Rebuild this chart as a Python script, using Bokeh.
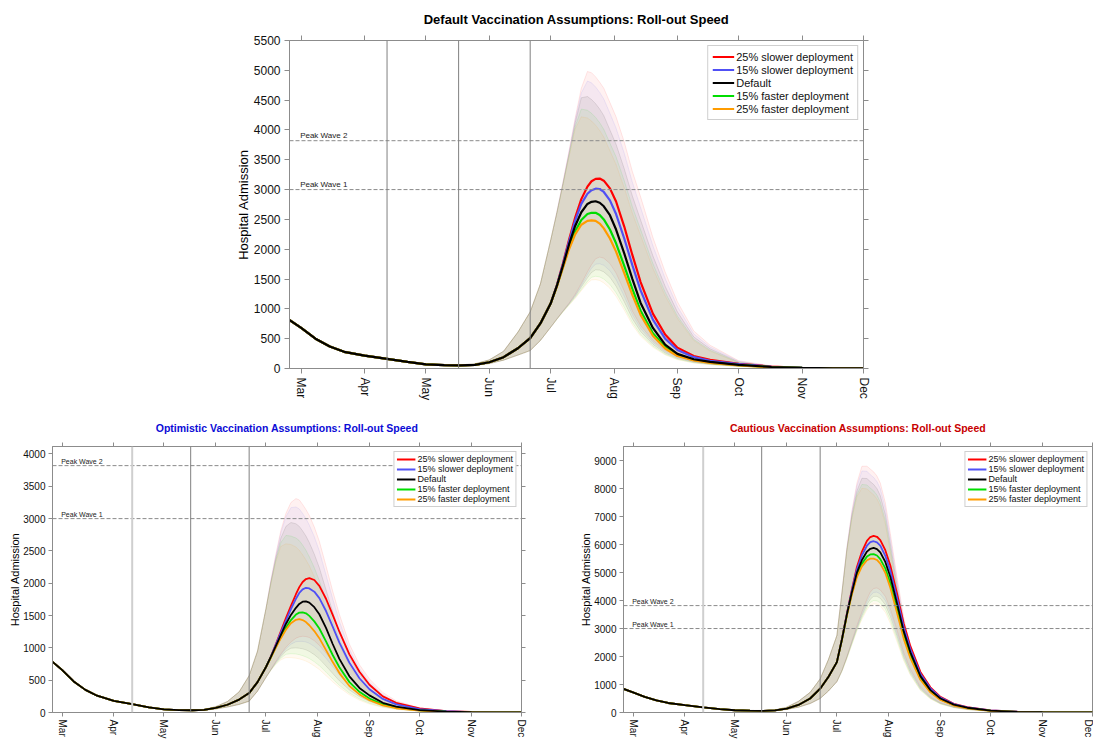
import math
import datetime
from bokeh.plotting import figure
from bokeh.models import Range1d, FixedTicker, LinearAxis, Span, Legend, LegendItem, Title
from bokeh.layouts import column, row
from bokeh.embed import file_html
from bokeh.resources import INLINE
from bokeh.core.properties import value

FONT = "Liberation Sans"
BASE = datetime.date(2021, 3, 1)


def day(m, d):
    return (datetime.date(2021, m, d) - BASE).days


# ---------------- shared labels / markers ----------------
month_nums = [3, 4, 5, 6, 7, 8, 9, 10, 11, 12]
month_labels = ["Mar", "Apr", "May", "Jun", "Jul", "Aug", "Sep", "Oct", "Nov", "Dec"]
step_dates = [(4, 12), (5, 17), (6, 21)]
peak_levels = [3000, 3820]
peak_labels = ["Peak Wave 1", "Peak Wave 2"]
series_names = ["25% slower deployment", "15% slower deployment", "Default",
                "15% faster deployment", "25% faster deployment"]
series_colors = ["#ff0000", "#5050f5", "#000000", "#00dd00", "#ff9c00"]

# sample days (days since 1 March)
pre_days = [-6, 0, 7, 14, 21, 31, 42, 52, 61, 70, 78, 85, 92, 99, 106, 112, 117]
post_days = [122, 125, 128, 131, 134, 137, 140, 142, 144, 146, 148, 151, 154, 158,
             162, 166, 172, 178, 184, 192, 200, 214, 230, 245, 260, 275]

# ---------------- Default assumptions (top) ----------------
def_pre = [820, 680, 500, 370, 280, 215, 160, 110, 70, 55, 52, 62, 105, 190, 340, 510, 755]
def_pre_lo = [800, 665, 490, 360, 270, 205, 150, 100, 63, 48, 45, 52, 82, 140, 225, 300, 470]
def_pre_hi = [840, 700, 515, 385, 295, 230, 170, 120, 78, 62, 62, 78, 145, 290, 610, 950, 1420]

def_slow25 = [1089, 1390, 1760, 2160, 2530, 2840, 3050, 3140, 3180, 3185, 3150, 3020, 2800, 2380,
              1900, 1450, 920, 570, 350, 210, 145, 80, 32, 12, 5, 2]
def_slow15 = [1089, 1385, 1745, 2130, 2480, 2760, 2930, 2990, 3015, 3010, 2960, 2820, 2590, 2180,
              1730, 1310, 820, 500, 310, 190, 130, 72, 29, 11, 4, 2]
def_default = [1089, 1380, 1720, 2080, 2390, 2620, 2760, 2795, 2805, 2780, 2720, 2570, 2330, 1930,
               1500, 1100, 680, 400, 245, 155, 110, 62, 25, 10, 4, 2]
def_fast15 = [1089, 1375, 1700, 2030, 2300, 2490, 2590, 2612, 2610, 2575, 2500, 2330, 2100, 1720,
              1330, 970, 590, 360, 225, 145, 100, 56, 23, 9, 4, 1]
def_fast25 = [1089, 1370, 1685, 2000, 2250, 2410, 2475, 2485, 2475, 2430, 2350, 2180, 1960, 1600,
              1230, 900, 550, 335, 210, 135, 95, 52, 21, 8, 3, 1]

def_slow25_hi = [2150, 2620, 3120, 3650, 4200, 4700, 4980, 4960, 4890, 4800, 4700, 4460, 4220, 3800,
                 3300, 2880, 2200, 1620, 1120, 630, 390, 130, 45, 16, 6, 2]
def_slow15_hi = [2150, 2615, 3110, 3630, 4170, 4620, 4820, 4790, 4720, 4630, 4520, 4280, 4030, 3610,
                 3120, 2700, 2060, 1510, 1040, 580, 360, 120, 42, 15, 5, 2]
def_default_hi = [2150, 2610, 3100, 3600, 4120, 4540, 4560, 4510, 4440, 4350, 4240, 4000, 3760, 3350,
                  2890, 2490, 1890, 1380, 950, 530, 330, 110, 38, 14, 5, 2]
def_fast15_hi = [2150, 2600, 3080, 3570, 4060, 4350, 4330, 4280, 4210, 4120, 4010, 3780, 3550, 3150,
                 2710, 2330, 1760, 1280, 880, 490, 305, 100, 35, 13, 4, 2]
def_fast25_hi = [2150, 2595, 3070, 3550, 4020, 4220, 4200, 4150, 4080, 3990, 3880, 3650, 3420, 3030,
                 2600, 2230, 1680, 1220, 840, 470, 290, 95, 33, 12, 4, 1]

def_slow25_lo = [690, 830, 965, 1095, 1245, 1425, 1620, 1740, 1840, 1868, 1850, 1760, 1600, 1300,
                 960, 720, 470, 300, 195, 120, 82, 44, 18, 7, 3, 1]
def_slow15_lo = [690, 828, 960, 1088, 1228, 1395, 1570, 1680, 1750, 1755, 1730, 1640, 1490, 1210,
                 900, 670, 440, 280, 180, 112, 77, 41, 17, 6, 2, 1]
def_default_lo = [690, 825, 955, 1080, 1210, 1365, 1520, 1610, 1655, 1650, 1620, 1530, 1380, 1120,
                  835, 620, 405, 260, 168, 105, 72, 38, 16, 6, 2, 1]
def_fast15_lo = [690, 822, 950, 1070, 1190, 1325, 1460, 1530, 1547, 1535, 1500, 1410, 1270, 1030,
                 770, 570, 375, 240, 155, 97, 67, 35, 15, 5, 2, 1]
def_fast25_lo = [690, 820, 945, 1060, 1175, 1305, 1430, 1485, 1490, 1475, 1435, 1345, 1210, 980,
                 730, 540, 355, 228, 148, 92, 64, 34, 14, 5, 2, 1]

# ---------------- Optimistic assumptions (bottom left) ----------------
opt_pre = [790, 660, 480, 350, 260, 180, 130, 80, 48, 37, 35, 40, 70, 120, 200, 300, 470]
opt_pre_lo = [775, 645, 470, 340, 250, 172, 122, 74, 43, 32, 30, 33, 55, 85, 125, 175, 330]
opt_pre_hi = [805, 675, 490, 360, 270, 188, 138, 86, 53, 42, 41, 48, 90, 170, 320, 570, 950]

opt_slow25 = [700, 870, 1060, 1260, 1460, 1650, 1830, 1940, 2020, 2065, 2080, 2050, 1960, 1760,
              1510, 1250, 900, 630, 430, 250, 150, 62, 22, 8, 3, 1]
opt_slow15 = [700, 865, 1050, 1240, 1420, 1600, 1760, 1850, 1905, 1930, 1920, 1870, 1770, 1570,
              1330, 1080, 770, 530, 360, 210, 125, 52, 19, 7, 2, 1]
opt_default = [700, 860, 1030, 1200, 1370, 1510, 1620, 1680, 1715, 1720, 1700, 1630, 1520, 1310,
               1060, 830, 560, 380, 265, 150, 90, 38, 14, 5, 2, 1]
opt_fast15 = [700, 855, 1015, 1170, 1310, 1430, 1515, 1545, 1550, 1535, 1495, 1410, 1300, 1100,
              890, 700, 470, 320, 215, 125, 75, 32, 12, 4, 2, 1]
opt_fast25 = [700, 850, 1005, 1150, 1280, 1380, 1435, 1445, 1430, 1400, 1350, 1260, 1150, 965,
              780, 610, 410, 280, 190, 110, 66, 28, 10, 4, 1, 1]

opt_slow25_hi = [1600, 2050, 2450, 2820, 3080, 3250, 3310, 3290, 3220, 3140, 3050, 2870, 2650, 2270,
                 1880, 1520, 1060, 740, 520, 310, 180, 72, 25, 9, 3, 1]
opt_slow15_hi = [1600, 2040, 2430, 2780, 3030, 3170, 3180, 3150, 3080, 3000, 2900, 2720, 2500, 2130,
                 1760, 1410, 980, 680, 470, 280, 160, 64, 22, 8, 3, 1]
opt_default_hi = [1600, 2020, 2390, 2700, 2880, 2940, 2920, 2880, 2810, 2730, 2630, 2450, 2240, 1900,
                  1560, 1250, 860, 590, 410, 240, 140, 56, 20, 7, 2, 1]
opt_fast15_hi = [1600, 2000, 2360, 2630, 2740, 2730, 2700, 2660, 2590, 2510, 2410, 2240, 2040, 1730,
                 1420, 1130, 780, 530, 370, 215, 125, 50, 18, 6, 2, 1]
opt_fast25_hi = [1600, 1990, 2340, 2570, 2610, 2600, 2560, 2510, 2440, 2360, 2270, 2100, 1910, 1620,
                 1320, 1050, 720, 490, 340, 200, 115, 46, 16, 6, 2, 1]

opt_slow25_lo = [540, 665, 790, 905, 1010, 1090, 1150, 1170, 1180, 1175, 1160, 1110, 1040, 920,
                 780, 640, 460, 320, 220, 130, 78, 32, 12, 4, 2, 1]
opt_slow15_lo = [540, 662, 782, 890, 985, 1055, 1095, 1100, 1100, 1090, 1070, 1020, 955, 840,
                 710, 580, 415, 290, 200, 118, 70, 29, 11, 4, 1, 1]
opt_default_lo = [540, 660, 770, 865, 950, 995, 1000, 995, 985, 970, 945, 895, 830, 720,
                  605, 490, 350, 245, 170, 100, 60, 25, 9, 3, 1, 1]
opt_fast15_lo = [540, 655, 755, 840, 900, 910, 905, 895, 880, 860, 835, 785, 725, 625,
                 520, 420, 300, 210, 145, 85, 52, 22, 8, 3, 1, 1]
opt_fast25_lo = [540, 650, 745, 815, 850, 850, 840, 830, 815, 795, 770, 720, 665, 570,
                 475, 385, 275, 190, 130, 78, 47, 20, 7, 3, 1, 1]

# ---------------- Cautious assumptions (bottom right) ----------------
cau_pre = [850, 720, 560, 430, 340, 260, 180, 120, 80, 65, 60, 75, 140, 270, 500, 850, 1280]
cau_pre_lo = [840, 710, 550, 420, 330, 252, 172, 112, 74, 58, 53, 62, 110, 190, 320, 500, 770]
cau_pre_hi = [860, 730, 570, 440, 350, 268, 188, 128, 88, 75, 72, 92, 190, 400, 720, 1200, 1900]

cau_slow25 = [1800, 2620, 3540, 4400, 5200, 5750, 6130, 6270, 6310, 6280, 6160, 5800, 5250, 4250,
              3180, 2370, 1450, 900, 560, 310, 190, 78, 28, 10, 3, 1]
cau_slow15 = [1800, 2610, 3520, 4360, 5120, 5620, 5960, 6090, 6120, 6080, 5960, 5600, 5060, 4090,
              3050, 2270, 1380, 860, 530, 300, 180, 74, 26, 9, 3, 1]
cau_default = [1800, 2600, 3500, 4300, 5000, 5450, 5750, 5850, 5880, 5840, 5720, 5380, 4850, 3900,
               2900, 2150, 1300, 800, 500, 280, 170, 70, 25, 9, 3, 1]
cau_fast15 = [1800, 2590, 3480, 4260, 4900, 5320, 5570, 5650, 5660, 5610, 5480, 5150, 4620, 3700,
              2750, 2030, 1220, 750, 470, 260, 160, 65, 23, 8, 3, 1]
cau_fast25 = [1800, 2580, 3460, 4220, 4840, 5220, 5440, 5500, 5500, 5450, 5320, 4990, 4460, 3560,
              2640, 1940, 1170, 720, 450, 250, 150, 62, 22, 8, 3, 1]

cau_slow25_hi = [2750, 4300, 5900, 7200, 8200, 8800, 8800, 8700, 8600, 8450, 8200, 7500, 6400, 4850,
                 3400, 2400, 1400, 850, 530, 300, 180, 75, 27, 10, 3, 1]
cau_slow15_hi = [2750, 4290, 5880, 7150, 8100, 8630, 8620, 8500, 8400, 8250, 8000, 7300, 6220, 4700,
                 3290, 2320, 1350, 820, 510, 290, 175, 72, 26, 9, 3, 1]
cau_default_hi = [2750, 4270, 5840, 7050, 7920, 8370, 8360, 8250, 8150, 8000, 7750, 7080, 6030, 4540,
                  3180, 2240, 1300, 790, 490, 280, 170, 70, 25, 9, 3, 1]
cau_fast15_hi = [2750, 4250, 5800, 6980, 7800, 8150, 8130, 8020, 7920, 7770, 7520, 6870, 5840, 4400,
                 3080, 2170, 1260, 765, 475, 270, 165, 68, 24, 8, 3, 1]
cau_fast25_hi = [2750, 4240, 5780, 6930, 7720, 8010, 7990, 7880, 7780, 7630, 7380, 6740, 5720, 4300,
                 3010, 2120, 1230, 745, 465, 265, 160, 66, 24, 8, 3, 1]

cau_slow25_lo = [1100, 1500, 2000, 2550, 3100, 3600, 4050, 4300, 4430, 4450, 4380, 4150, 3700, 2950,
                 2150, 1550, 920, 560, 350, 200, 120, 50, 18, 6, 2, 1]
cau_slow15_lo = [1100, 1490, 1980, 2520, 3050, 3530, 3950, 4170, 4290, 4300, 4230, 4000, 3570, 2840,
                 2070, 1490, 880, 540, 335, 190, 115, 48, 17, 6, 2, 1]
cau_default_lo = [1100, 1480, 1960, 2490, 3000, 3460, 3850, 4050, 4150, 4150, 4080, 3850, 3430, 2730,
                  1990, 1430, 850, 520, 320, 185, 110, 46, 16, 6, 2, 1]
cau_fast15_lo = [1100, 1470, 1940, 2450, 2950, 3390, 3750, 3930, 4000, 3990, 3920, 3700, 3290, 2620,
                 1910, 1370, 810, 500, 310, 175, 105, 44, 16, 5, 2, 1]
cau_fast25_lo = [1100, 1460, 1920, 2420, 2910, 3330, 3670, 3830, 3880, 3870, 3800, 3580, 3180, 2530,
                 1850, 1330, 790, 485, 300, 170, 100, 42, 15, 5, 2, 1]

DRAW_ORDER = [0, 1, 3, 4, 2]  # default (black) line drawn last, on top


def make_panel(title, title_color, ymax, ytick_step, pre, pre_lo, pre_hi, lines, los, his,
               width, height, borders, sz, first_step_light, right_axis=True):
    bl, br, bt, bb = borders
    month_ticks = [day(m, 1) for m in month_nums]
    p = figure(width=width, height=height, output_backend="svg", toolbar_location=None,
               x_range=Range1d(-5.7, day(12, 1)), y_range=Range1d(0, ymax),
               min_border_left=bl, min_border_right=br, min_border_top=bt, min_border_bottom=bb,
               background_fill_color="white", border_fill_color="white")
    p.grid.visible = False
    p.outline_line_color = "#8c8c8c"
    p.outline_line_width = 1

    xt = FixedTicker(ticks=month_ticks)
    yt = FixedTicker(ticks=list(range(0, int(ymax) + 1, ytick_step)))

    xa = p.xaxis[0]
    xa.ticker = xt
    xa.major_label_overrides = {t: lab for t, lab in zip(month_ticks, month_labels)}
    xa.major_label_orientation = -math.pi / 2
    xa.major_label_text_font = FONT
    xa.major_label_text_font_size = sz["tick"]
    xa.major_label_standoff = sz["standoff"]
    ya = p.yaxis[0]
    ya.ticker = yt
    ya.major_label_text_font = FONT
    ya.major_label_text_font_size = sz["tick"]
    ya.major_label_standoff = sz["standoff"]
    ya.axis_label = "Hospital Admission"
    ya.axis_label_text_font = FONT
    ya.axis_label_text_font_size = sz["axis"]
    ya.axis_label_text_font_style = "normal"
    ya.axis_label_text_color = "#000000"
    ya.axis_label_standoff = sz["label_standoff"]
    for ax in (xa, ya):
        ax.axis_line_color = "#8c8c8c"
        ax.major_tick_line_color = "#8c8c8c"
        ax.major_tick_in = 0
        ax.major_tick_out = sz["tick_len"]
        ax.minor_tick_line_color = None
        ax.major_label_text_color = "#111111"

    extra = [("above", xt)] + ([("right", yt)] if right_axis else [])
    for side, tk in extra:
        ax = LinearAxis(ticker=tk, major_label_text_font_size="0px", major_label_text_color=None,
                        axis_line_color="#8c8c8c",
                        major_tick_line_color="#8c8c8c", major_tick_in=0,
                        major_tick_out=sz["tick_len"], minor_tick_line_color=None,
                        major_label_standoff=0)
        p.add_layout(ax, side)

    p.title = Title(text=title, text_font=FONT, text_font_size=sz["title"], text_font_style="bold",
                    text_color=title_color, align="center", standoff=sz["title_standoff"])

    xs = pre_days + post_days
    # uncertainty bands
    for c, lo, hi in zip(series_colors, los, his):
        ylo = pre_lo + lo
        yhi = pre_hi + hi
        p.varea(x=xs, y1=ylo, y2=yhi, fill_color=c, fill_alpha=0.055)
        p.line(x=xs, y=yhi, line_color=c, line_alpha=0.12, line_width=0.8)
        p.line(x=xs, y=ylo, line_color=c, line_alpha=0.12, line_width=0.8)

    # peak reference lines
    for lev in peak_levels:
        p.add_layout(Span(location=lev, dimension="width", line_color="#8a8a8a",
                          line_dash="4 2", line_width=1))
    p.text(x=[-0.5] * len(peak_levels), y=peak_levels, text=peak_labels,
           text_font=value(FONT), text_font_size=value(sz["peak"]), text_color="#222222",
           text_baseline="bottom", text_align="left", y_offset=-1)

    # roadmap steps
    for i, (m, d) in enumerate(step_dates):
        light = first_step_light and i == 0
        p.add_layout(Span(location=day(m, d), dimension="height",
                          line_color="#cfcfcf" if light else "#808080",
                          line_width=2 if light else 1))

    rends = {}
    for k in DRAW_ORDER:
        rends[k] = p.line(x=xs, y=pre + lines[k], line_color=series_colors[k], line_width=sz["lw"])
    items = [LegendItem(label=series_names[k], renderers=[rends[k]]) for k in range(len(series_names))]

    leg = Legend(items=items, location="top_right", margin=5, padding=sz["leg_pad"], spacing=0,
                 label_text_font=FONT, label_text_font_size=sz["leg_font"], label_text_color="#111111",
                 label_height=sz["leg_row"], glyph_height=sz["leg_row"], glyph_width=sz["leg_glyph"],
                 label_standoff=2, border_line_color="#a0a0a0", background_fill_alpha=1.0)
    p.add_layout(leg)
    return p


top_sz = dict(tick="12px", axis="13px", title="13px", standoff=4, label_standoff=0, tick_len=5,
              title_standoff=17, peak="8px", lw=2.2, leg_pad=4, leg_font="11px", leg_row=13,
              leg_glyph=22)
bot_sz = dict(tick="10px", axis="11px", title="10.5px", standoff=3, label_standoff=-1, tick_len=4,
              title_standoff=18, peak="7px", lw=1.8, leg_pad=2, leg_font="9px", leg_row=10,
              leg_glyph=19)

p_top = make_panel("Default Vaccination Assumptions: Roll-out Speed", "#000000", 5500, 500,
                   def_pre, def_pre_lo, def_pre_hi,
                   [def_slow25, def_slow15, def_default, def_fast15, def_fast25],
                   [def_slow25_lo, def_slow15_lo, def_default_lo, def_fast15_lo, def_fast25_lo],
                   [def_slow25_hi, def_slow15_hi, def_default_hi, def_fast15_hi, def_fast25_hi],
                   1093, 408, (289, 230, 40, 40), top_sz, False)

p_opt = make_panel("Optimistic Vaccination Assumptions: Roll-out Speed", "#0b0bd6", 4116, 500,
                   opt_pre, opt_pre_lo, opt_pre_hi,
                   [opt_slow25, opt_slow15, opt_default, opt_fast15, opt_fast25],
                   [opt_slow25_lo, opt_slow15_lo, opt_default_lo, opt_fast15_lo, opt_fast25_lo],
                   [opt_slow25_hi, opt_slow15_hi, opt_default_hi, opt_fast15_hi, opt_fast25_hi],
                   571, 333, (52, 50, 38, 26), bot_sz, True)

p_cau = make_panel("Cautious Vaccination Assumptions: Roll-out Speed", "#c80000", 9505, 1000,
                   cau_pre, cau_pre_lo, cau_pre_hi,
                   [cau_slow25, cau_slow15, cau_default, cau_fast15, cau_fast25],
                   [cau_slow25_lo, cau_slow15_lo, cau_default_lo, cau_fast15_lo, cau_fast25_lo],
                   [cau_slow25_hi, cau_slow15_hi, cau_default_hi, cau_fast15_hi, cau_fast25_hi],
                   522, 333, (52, 1, 38, 26), bot_sz, True, right_axis=False)

layout = column(p_top, row(p_opt, p_cau, spacing=0), spacing=0)
open("out.html", "w").write(file_html(layout, INLINE))
